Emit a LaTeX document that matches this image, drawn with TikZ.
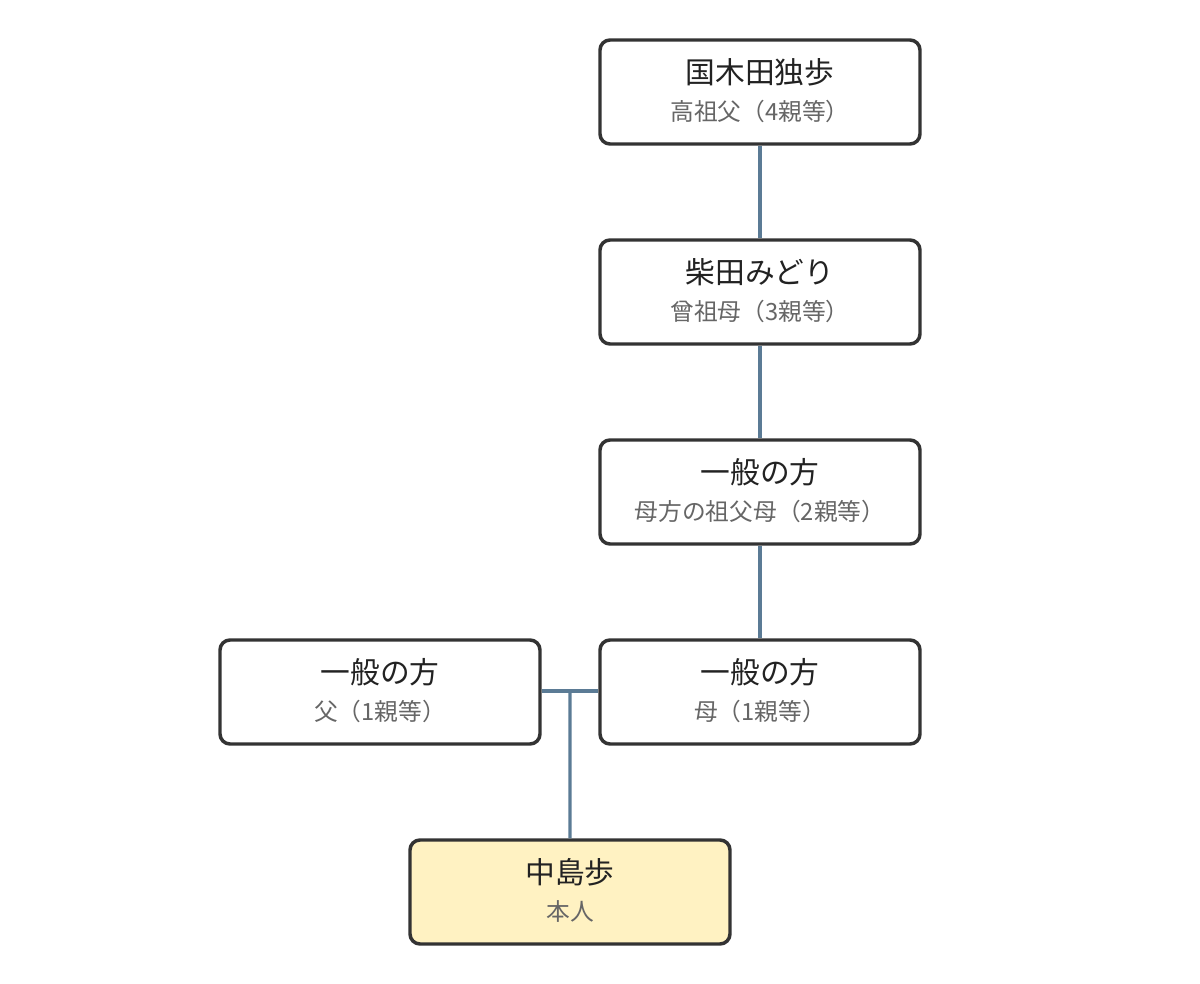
\documentclass[tikz,border=0pt]{standalone}
\usepackage{fontspec}
\usetikzlibrary{calc}
\setmainfont{Noto Sans CJK JP}
\definecolor{boxline}{HTML}{333333}
\definecolor{conn}{HTML}{5B7B95}
\definecolor{selffill}{HTML}{FFF2C2}
\definecolor{titlec}{HTML}{222222}
\definecolor{subc}{HTML}{666666}
\begin{document}
\begin{tikzpicture}[x=0.75pt,y=-0.75pt,
  person/.style={draw=boxline,line width=2.6pt,rounded corners=7.5pt,fill=white,
    minimum width=240pt,minimum height=78pt,inner sep=0pt},
  selfbox/.style={person,fill=selffill},
  ttl/.style={font=\fontsize{22.3pt}{26pt}\selectfont,text=titlec,inner sep=0pt,anchor=center},
  sub/.style={font=\fontsize{17.8pt}{20pt}\selectfont,text=subc,inner sep=0pt,anchor=center},
  link/.style={draw=conn,line width=2.3pt}]
\useasboundingbox (0,0) rectangle (1200,984);
\node[person] (g4) at (760,92) {};
\node[person] (g3) at (760,292) {};
\node[person] (g2) at (760,492) {};
\node[person] (fa) at (380,692) {};
\node[person] (mo) at (760,692) {};
\node[selfbox] (me) at (570,892) {};
\node[ttl] (g4t) at ([yshift=19.5pt*0.75]g4.center) {国木田独歩};
\node[sub] (g4s) at ([yshift=-19.5pt*0.75]g4.center) {高祖父（4親等）};
\node[ttl] (g3t) at ([yshift=19.5pt*0.75]g3.center) {柴田みどり};
\node[sub] (g3s) at ([yshift=-19.5pt*0.75]g3.center) {曾祖母（3親等）};
\node[ttl] (g2t) at ([yshift=19.5pt*0.75]g2.center) {一般の方};
\node[sub] (g2s) at ([yshift=-19.5pt*0.75]g2.center) {母方の祖父母（2親等）};
\node[ttl] (fat) at ([yshift=19.5pt*0.75]fa.center) {一般の方};
\node[sub] (fas) at ([yshift=-19.5pt*0.75]fa.center) {父（1親等）};
\node[ttl] (mot) at ([yshift=19.5pt*0.75]mo.center) {一般の方};
\node[sub] (mos) at ([yshift=-19.5pt*0.75]mo.center) {母（1親等）};
\node[ttl] (met) at ([yshift=19.5pt*0.75]me.center) {中島歩};
\node[sub] (mes) at ([yshift=-19.5pt*0.75]me.center) {本人};
\draw[link] (g4.south) -- (g3.north);
\draw[link] (g3.south) -- (g2.north);
\draw[link] (g2.south) -- (mo.north);
\draw[link] ([yshift=0.75pt]fa.east) -- ([yshift=0.75pt]mo.west);
\coordinate (jn) at ([yshift=0.75pt]$(fa.east)!0.5!(mo.west)$);
\draw[link] (jn) -- (me.north);
\end{tikzpicture}
\end{document}
